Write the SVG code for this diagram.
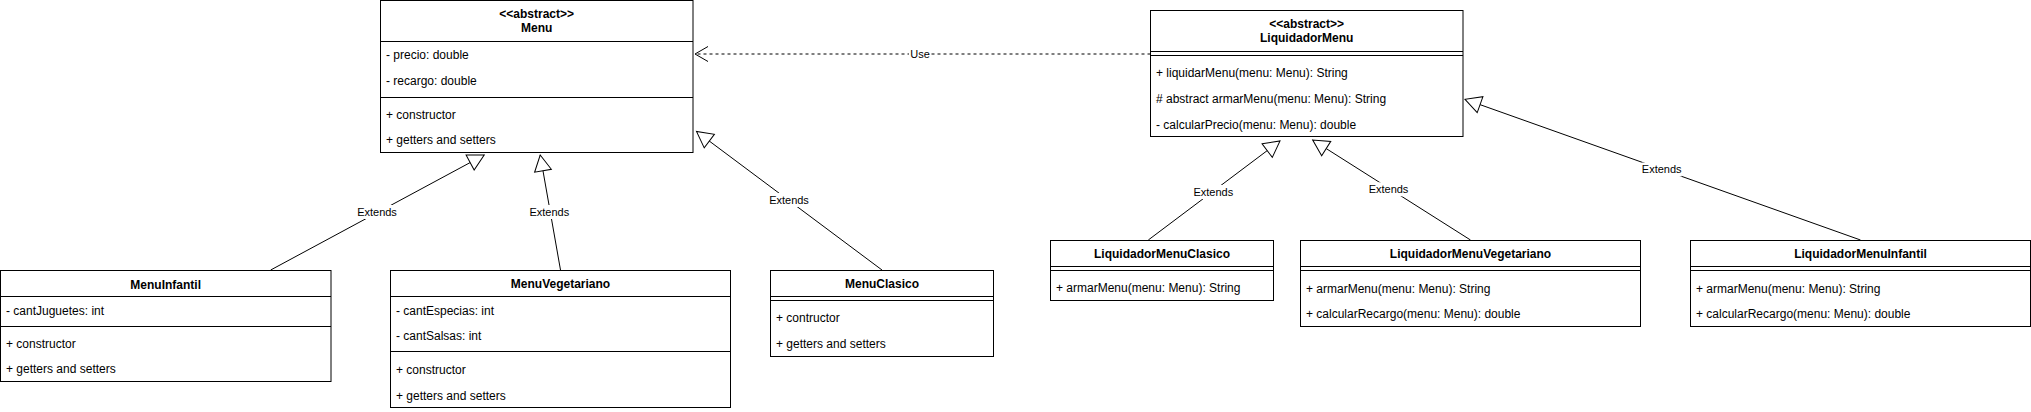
<svg xmlns="http://www.w3.org/2000/svg" width="2031" height="412" viewBox="0 0 2031 412">
<style>
.box{fill:#fff;stroke:#000;stroke-width:1}
.ln{stroke:#000;stroke-width:1;fill:none}
.t{font-family:"Liberation Sans",Arial,sans-serif;font-size:12px;fill:#000}
.b{font-weight:bold;text-anchor:middle}
.lbl{font-family:"Liberation Sans",Arial,sans-serif;font-size:11px;fill:#000;text-anchor:middle}
.lb{fill:#fff;stroke:none}
.gen{stroke:#000;stroke-width:1;fill:none;marker-end:url(#tri)}
.dep{stroke:#000;stroke-width:1;fill:none;stroke-dasharray:3 3;marker-end:url(#open)}
</style>
<defs>
<marker id="tri" markerUnits="userSpaceOnUse" viewBox="0 0 18 19" markerWidth="18" markerHeight="19" refX="17" refY="9.5" orient="auto" overflow="visible">
<path d="M1,1 L17,9.5 L1,18 Z" fill="#fff" stroke="#000" stroke-width="1"/>
</marker>
<marker id="open" markerUnits="userSpaceOnUse" viewBox="0 0 15 16" markerWidth="15" markerHeight="16" refX="14" refY="8" orient="auto" overflow="visible">
<path d="M1,0.5 L14,8 L1,15.5" fill="none" stroke="#000" stroke-width="1"/>
</marker>
</defs>

<g id="connectors">
<line class="gen" x1="270.7" y1="270" x2="484.2" y2="155"/>
<line class="gen" x1="560.5" y1="270" x2="540.2" y2="155"/>
<line class="gen" x1="882" y1="270" x2="696.5" y2="131.5"/>
<line class="dep" x1="1150.5" y1="54" x2="695" y2="54"/>
<line class="gen" x1="1148.3" y1="240" x2="1280" y2="141"/>
<line class="gen" x1="1470.5" y1="240" x2="1312.7" y2="140"/>
<line class="gen" x1="1860.5" y1="240" x2="1465" y2="99.3"/>
<rect class="lb" x="357" y="205" width="40" height="14"/>
<text class="lbl" x="377" y="215.8">Extends</text>
<rect class="lb" x="529.3" y="205" width="40" height="14"/>
<text class="lbl" x="549.3" y="215.8">Extends</text>
<rect class="lb" x="769" y="193" width="40" height="14"/>
<text class="lbl" x="789" y="203.8">Extends</text>
<rect class="lb" x="909" y="47" width="22" height="14"/>
<text class="lbl" x="920" y="57.8">Use</text>
<rect class="lb" x="1193.3" y="185" width="40" height="14"/>
<text class="lbl" x="1213.3" y="195.8">Extends</text>
<rect class="lb" x="1368.5" y="182.3" width="40" height="14"/>
<text class="lbl" x="1388.5" y="193.1">Extends</text>
<rect class="lb" x="1641.7" y="162.5" width="40" height="14"/>
<text class="lbl" x="1661.7" y="173.3">Extends</text>
</g>

<g id="Menu">
<rect class="box" x="380.5" y="0.5" width="312.5" height="152"/>
<line class="ln" x1="380.5" y1="41.5" x2="693" y2="41.5"/>
<line class="ln" x1="380.5" y1="97.5" x2="693" y2="97.5"/>
<text class="t b" x="536.7" y="18.2">&lt;&lt;abstract&gt;&gt;</text>
<text class="t b" x="536.7" y="32">Menu</text>
<text class="t" x="386" y="58.5">- precio: double</text>
<text class="t" x="386" y="85">- recargo: double</text>
<text class="t" x="386" y="119.2">+ constructor</text>
<text class="t" x="386" y="144.2">+ getters and setters</text>
</g>

<g id="LiquidadorMenu">
<rect class="box" x="1150.5" y="10.5" width="312.5" height="126"/>
<line class="ln" x1="1150.5" y1="51.5" x2="1463" y2="51.5"/>
<line class="ln" x1="1150.5" y1="55.5" x2="1463" y2="55.5"/>
<text class="t b" x="1306.7" y="27.5">&lt;&lt;abstract&gt;&gt;</text>
<text class="t b" x="1306.7" y="41.5">LiquidadorMenu</text>
<text class="t" x="1156" y="76.5">+ liquidarMenu(menu: Menu): String</text>
<text class="t" x="1156" y="102.5"># abstract armarMenu(menu: Menu): String</text>
<text class="t" x="1156" y="129">- calcularPrecio(menu: Menu): double</text>
</g>

<g id="MenuInfantil">
<rect class="box" x="0.5" y="270.5" width="330.5" height="111"/>
<line class="ln" x1="0.5" y1="296.5" x2="331" y2="296.5"/>
<line class="ln" x1="0.5" y1="326.5" x2="331" y2="326.5"/>
<text class="t b" x="165.7" y="289">MenuInfantil</text>
<text class="t" x="6" y="315">- cantJuguetes: int</text>
<text class="t" x="6" y="347.5">+ constructor</text>
<text class="t" x="6" y="373">+ getters and setters</text>
</g>

<g id="MenuVegetariano">
<rect class="box" x="390.5" y="270.5" width="340" height="137"/>
<line class="ln" x1="390.5" y1="296.5" x2="730.5" y2="296.5"/>
<line class="ln" x1="390.5" y1="351.5" x2="730.5" y2="351.5"/>
<text class="t b" x="560.5" y="288.3">MenuVegetariano</text>
<text class="t" x="396" y="315">- cantEspecias: int</text>
<text class="t" x="396" y="340.3">- cantSalsas: int</text>
<text class="t" x="396" y="373.5">+ constructor</text>
<text class="t" x="396" y="400">+ getters and setters</text>
</g>

<g id="MenuClasico">
<rect class="box" x="770.5" y="270.5" width="223" height="86"/>
<line class="ln" x1="770.5" y1="296.5" x2="993.5" y2="296.5"/>
<line class="ln" x1="770.5" y1="300.5" x2="993.5" y2="300.5"/>
<text class="t b" x="882" y="288.3">MenuClasico</text>
<text class="t" x="776" y="322">+ contructor</text>
<text class="t" x="776" y="347.5">+ getters and setters</text>
</g>

<g id="LiquidadorMenuClasico">
<rect class="box" x="1050.5" y="240.5" width="223" height="60"/>
<line class="ln" x1="1050.5" y1="266.5" x2="1273.5" y2="266.5"/>
<line class="ln" x1="1050.5" y1="270.5" x2="1273.5" y2="270.5"/>
<text class="t b" x="1162" y="258.3">LiquidadorMenuClasico</text>
<text class="t" x="1056" y="292">+ armarMenu(menu: Menu): String</text>
</g>

<g id="LiquidadorMenuVegetariano">
<rect class="box" x="1300.5" y="240.5" width="340" height="86"/>
<line class="ln" x1="1300.5" y1="266.5" x2="1640.5" y2="266.5"/>
<line class="ln" x1="1300.5" y1="270.5" x2="1640.5" y2="270.5"/>
<text class="t b" x="1470.5" y="258.3">LiquidadorMenuVegetariano</text>
<text class="t" x="1306" y="292.5">+ armarMenu(menu: Menu): String</text>
<text class="t" x="1306" y="317.5">+ calcularRecargo(menu: Menu): double</text>
</g>

<g id="LiquidadorMenuInfantil">
<rect class="box" x="1690.5" y="240.5" width="340" height="86"/>
<line class="ln" x1="1690.5" y1="266.5" x2="2030.5" y2="266.5"/>
<line class="ln" x1="1690.5" y1="270.5" x2="2030.5" y2="270.5"/>
<text class="t b" x="1860.5" y="258.3">LiquidadorMenuInfantil</text>
<text class="t" x="1696" y="292.5">+ armarMenu(menu: Menu): String</text>
<text class="t" x="1696" y="317.5">+ calcularRecargo(menu: Menu): double</text>
</g>
</svg>
